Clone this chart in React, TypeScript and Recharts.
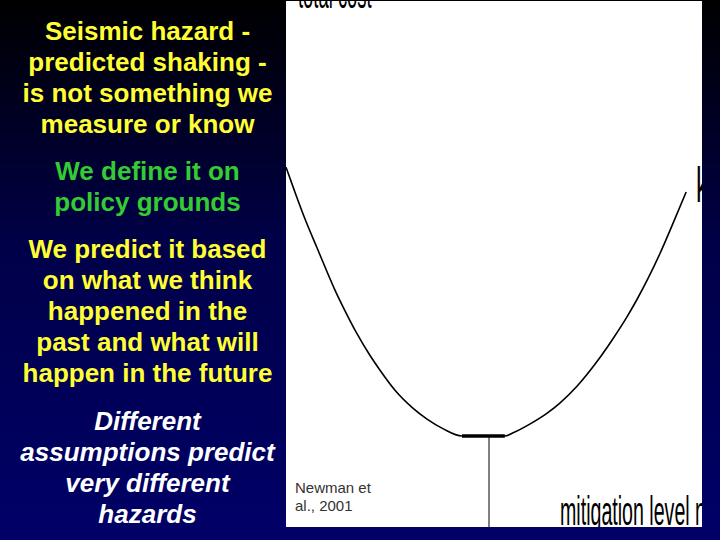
import { LineChart, Line, XAxis, YAxis } from 'recharts'

// mitigation level (0-100) vs total cost (0-100)
const leftLevels = [0, 2, 4.6, 7.5, 11.8, 14.7, 17.1, 20.2, 22.6, 26.2, 30.5, 33.9, 37.7, 42.3]
const leftCosts = [68.4, 64.0, 58.5, 53.0, 45.0, 40.3, 36.7, 32.6, 29.8, 26.0, 22.6, 20.5, 18.7, 17.3]

const rightLevels = [52.6, 54.6, 58.7, 62.7, 65.9, 70.0, 74.8, 78.6, 82.0, 84.4, 87.0, 89.9, 92.8, 96.2]
const rightCosts = [17.3, 17.9, 19.6, 21.6, 23.6, 26.8, 31.5, 35.8, 40.0, 43.3, 47.2, 52.0, 57.3, 63.7]

const flatLevels = [42.3, 52.6]
const flatCost = 17.3

const optimumLevel = 48.8
const optimumCosts = [17.3, 0]

const yellowLines1 = ['Seismic hazard -', 'predicted shaking -', 'is not something we', 'measure or know']
const greenLines = ['We define it on', 'policy grounds']
const yellowLines2 = ['We predict it based', 'on what we think', 'happened in the', 'past and what will', 'happen in the future']
const whiteLines = ['Different', 'assumptions predict', 'very different', 'hazards']

const curve = [
  ...leftLevels.map((x, i) => ({ x, cost: leftCosts[i] })),
  ...rightLevels.map((x, i) => ({ x, cost: rightCosts[i] })),
]
const flat = flatLevels.map((x) => ({ x, cost: flatCost }))
const optimum = optimumCosts.map((cost) => ({ x: optimumLevel, cost }))

const textFont = '"Liberation Sans", Arial, sans-serif'

function Para({ lines, top, color, italic }: { lines: string[]; top: number; color: string; italic?: boolean }) {
  return (
    <div
      style={{
        position: 'absolute',
        left: 0,
        top,
        width: 295,
        textAlign: 'center',
        color,
        fontFamily: textFont,
        fontWeight: 'bold',
        fontStyle: italic ? 'italic' : 'normal',
        fontSize: 26,
        lineHeight: '31px',
        whiteSpace: 'nowrap',
      }}
    >
      {lines.map((l) => (
        <div key={l}>{l}</div>
      ))}
    </div>
  )
}

function Squeezed({ text, left, top, size, scale }: { text: string; left: number; top: number; size: number; scale: number }) {
  return (
    <div
      style={{
        position: 'absolute',
        left,
        top,
        fontFamily: textFont,
        fontSize: size,
        lineHeight: `${size}px`,
        color: '#000',
        whiteSpace: 'nowrap',
        transform: `scaleX(${scale})`,
        transformOrigin: 'left top',
      }}
    >
      {text}
    </div>
  )
}

export default function App() {
  return (
    <div
      style={{
        position: 'absolute',
        left: 0,
        top: 0,
        width: 720,
        height: 540,
        overflow: 'hidden',
        background: 'linear-gradient(to bottom, #000000 0%, #000048 45%, #000068 100%)',
      }}
    >
      <Para lines={yellowLines1} top={16} color="#ffff33" />
      <Para lines={greenLines} top={156} color="#33cc33" />
      <Para lines={yellowLines2} top={234} color="#ffff33" />
      <Para lines={whiteLines} top={406} color="#ffffff" italic />

      <div
        style={{
          position: 'absolute',
          left: 286,
          top: 1,
          width: 416,
          height: 526,
          background: '#fff',
          overflow: 'hidden',
        }}
      >
        <LineChart width={416} height={526} margin={{ top: 0, right: 0, bottom: 0, left: 0 }}>
          <XAxis type="number" dataKey="x" domain={[0, 100]} hide allowDataOverflow />
          <YAxis type="number" dataKey="cost" domain={[0, 100]} hide allowDataOverflow />
          <Line
            data={curve}
            dataKey="cost"
            type="monotone"
            stroke="#000"
            strokeWidth={1.6}
            dot={false}
            activeDot={false}
            isAnimationActive={false}
          />
          <Line
            data={flat}
            dataKey="cost"
            type="linear"
            stroke="#000"
            strokeWidth={3.5}
            dot={false}
            activeDot={false}
            isAnimationActive={false}
          />
          <Line
            data={optimum}
            dataKey="cost"
            type="linear"
            stroke="#000"
            strokeWidth={1}
            dot={false}
            activeDot={false}
            isAnimationActive={false}
          />
        </LineChart>

        <Squeezed text="total cost" left={12} top={-27} size={40} scale={0.46} />
        <Squeezed text="k" left={410} top={159} size={50} scale={0.5} />
        <Squeezed text="mitigation level n" left={274} top={490} size={40} scale={0.49} />
        <div
          style={{
            position: 'absolute',
            left: 9,
            top: 478,
            fontFamily: textFont,
            fontSize: 15,
            lineHeight: '18px',
            color: '#333',
          }}
        >
          Newman et
          <br />
          al., 2001
        </div>
      </div>
    </div>
  )
}
